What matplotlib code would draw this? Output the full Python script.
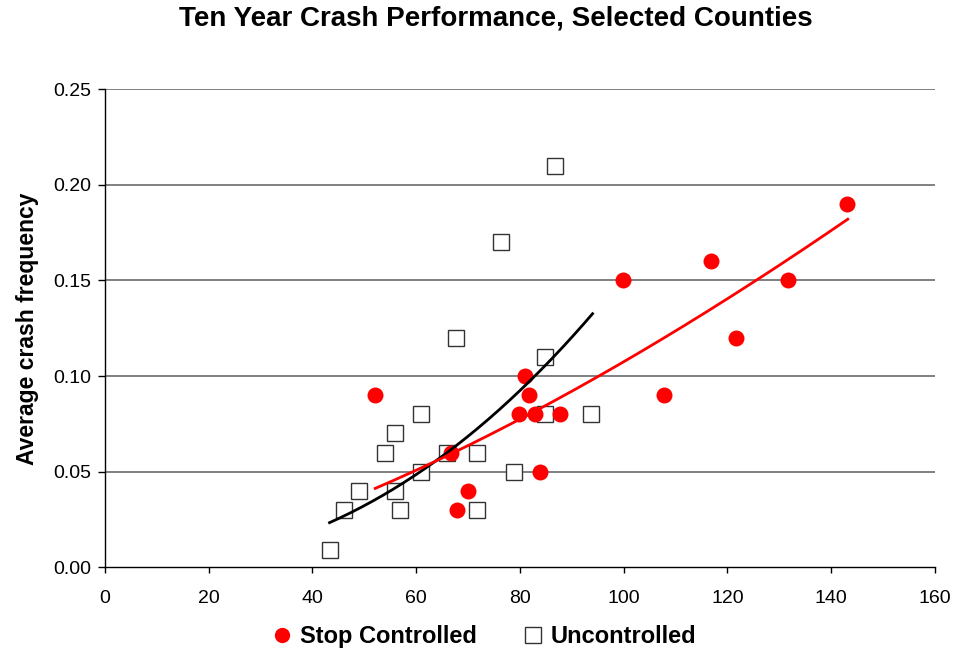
import numpy as np
import matplotlib
matplotlib.use("Agg")
import matplotlib.pyplot as plt
from matplotlib.lines import Line2D

plt.rcParams['font.family'] = ['Liberation Sans', 'DejaVu Sans']

# Stop controlled (red circles)
stop_x = [52.0, 80.9, 81.8, 79.9, 82.9, 87.8, 66.8, 83.9, 69.9, 67.9, 99.8,
          143.0, 116.8, 131.7, 121.7, 107.8]
stop_y = [0.09, 0.10, 0.09, 0.08, 0.08, 0.08, 0.06, 0.05, 0.04, 0.03, 0.15,
          0.19, 0.16, 0.15, 0.12, 0.09]

# Uncontrolled (open squares)
unc_x = [86.8, 76.4, 67.7, 84.9, 60.9, 93.7, 84.9, 56.0, 53.9, 65.9, 71.8,
         60.9, 78.8, 49.0, 56.0, 46.0, 56.9, 71.8, 43.3]
unc_y = [0.21, 0.17, 0.12, 0.11, 0.08, 0.08, 0.08, 0.07, 0.06, 0.06, 0.06,
         0.05, 0.05, 0.04, 0.04, 0.03, 0.03, 0.03, 0.009]

# Power trendlines (y = a * x^b): start/end points
stop_trend_x = [52.1, 143.2]
stop_trend_y = [0.0413, 0.182]
unc_trend_x = [43.3, 94.0]
unc_trend_y = [0.0234, 0.1326]

x_ticks = [0, 20, 40, 60, 80, 100, 120, 140, 160]
y_ticks = [0.00, 0.05, 0.10, 0.15, 0.20, 0.25]

fig = plt.figure(figsize=(9.54, 6.55), dpi=100)
ax = fig.add_axes([0.110, 0.1337, 0.870, 0.7303])

for yt in y_ticks[1:]:
    ax.axhline(yt, color='#808080', lw=1.4, zorder=0)

def power_curve(tx, ty):
    b = np.log(ty[1] / ty[0]) / np.log(tx[1] / tx[0])
    a = ty[0] / tx[0] ** b
    xs = np.linspace(tx[0], tx[1], 200)
    return xs, a * xs ** b

ax.plot(stop_x, stop_y, 'o', color='red', markersize=11.5, markeredgewidth=0, zorder=3)
ax.plot(unc_x, unc_y, 's', markerfacecolor='white', markeredgecolor='#333333',
        markersize=11, markeredgewidth=1.0, zorder=2)

xs, ys = power_curve(unc_trend_x, unc_trend_y)
ax.plot(xs, ys, color='black', lw=2, zorder=4)
xs, ys = power_curve(stop_trend_x, stop_trend_y)
ax.plot(xs, ys, color='red', lw=2, zorder=4)

ax.set_xlim(0, 160)
ax.set_ylim(0, 0.25)
ax.set_xticks(x_ticks)
ax.set_yticks(y_ticks)
ax.set_yticklabels([f"{v:.2f}" for v in y_ticks])
ax.tick_params(direction='out', width=1, labelsize=14)
ax.tick_params(axis='y', length=5, pad=5)
ax.tick_params(axis='x', length=4.5, pad=12)
for s in ['top', 'right']:
    ax.spines[s].set_visible(False)
for s in ['left', 'bottom']:
    ax.spines[s].set_linewidth(1.0)
    ax.spines[s].set_color('black')

ax.set_ylabel('Average crash frequency', fontsize=16.5, fontweight='bold', labelpad=10)
fig.text(0.52, 0.972, 'Ten Year Crash Performance, Selected Counties', fontsize=20,
         fontweight='bold', ha='center', va='center')

handles = [Line2D([], [], marker='o', color='red', ls='none', markersize=11, markeredgewidth=0),
           Line2D([], [], marker='s', markerfacecolor='white', markeredgecolor='#333333',
                  ls='none', markersize=11)]
fig.legend(handles, ['Stop Controlled', 'Uncontrolled'], loc='center',
           bbox_to_anchor=(0.5035, 0.028), ncol=2, frameon=False,
           prop={'size': 17, 'weight': 'bold'}, handletextpad=0.0, columnspacing=1.6,
           handlelength=1.5)

fig.savefig('out.png', dpi=100)
